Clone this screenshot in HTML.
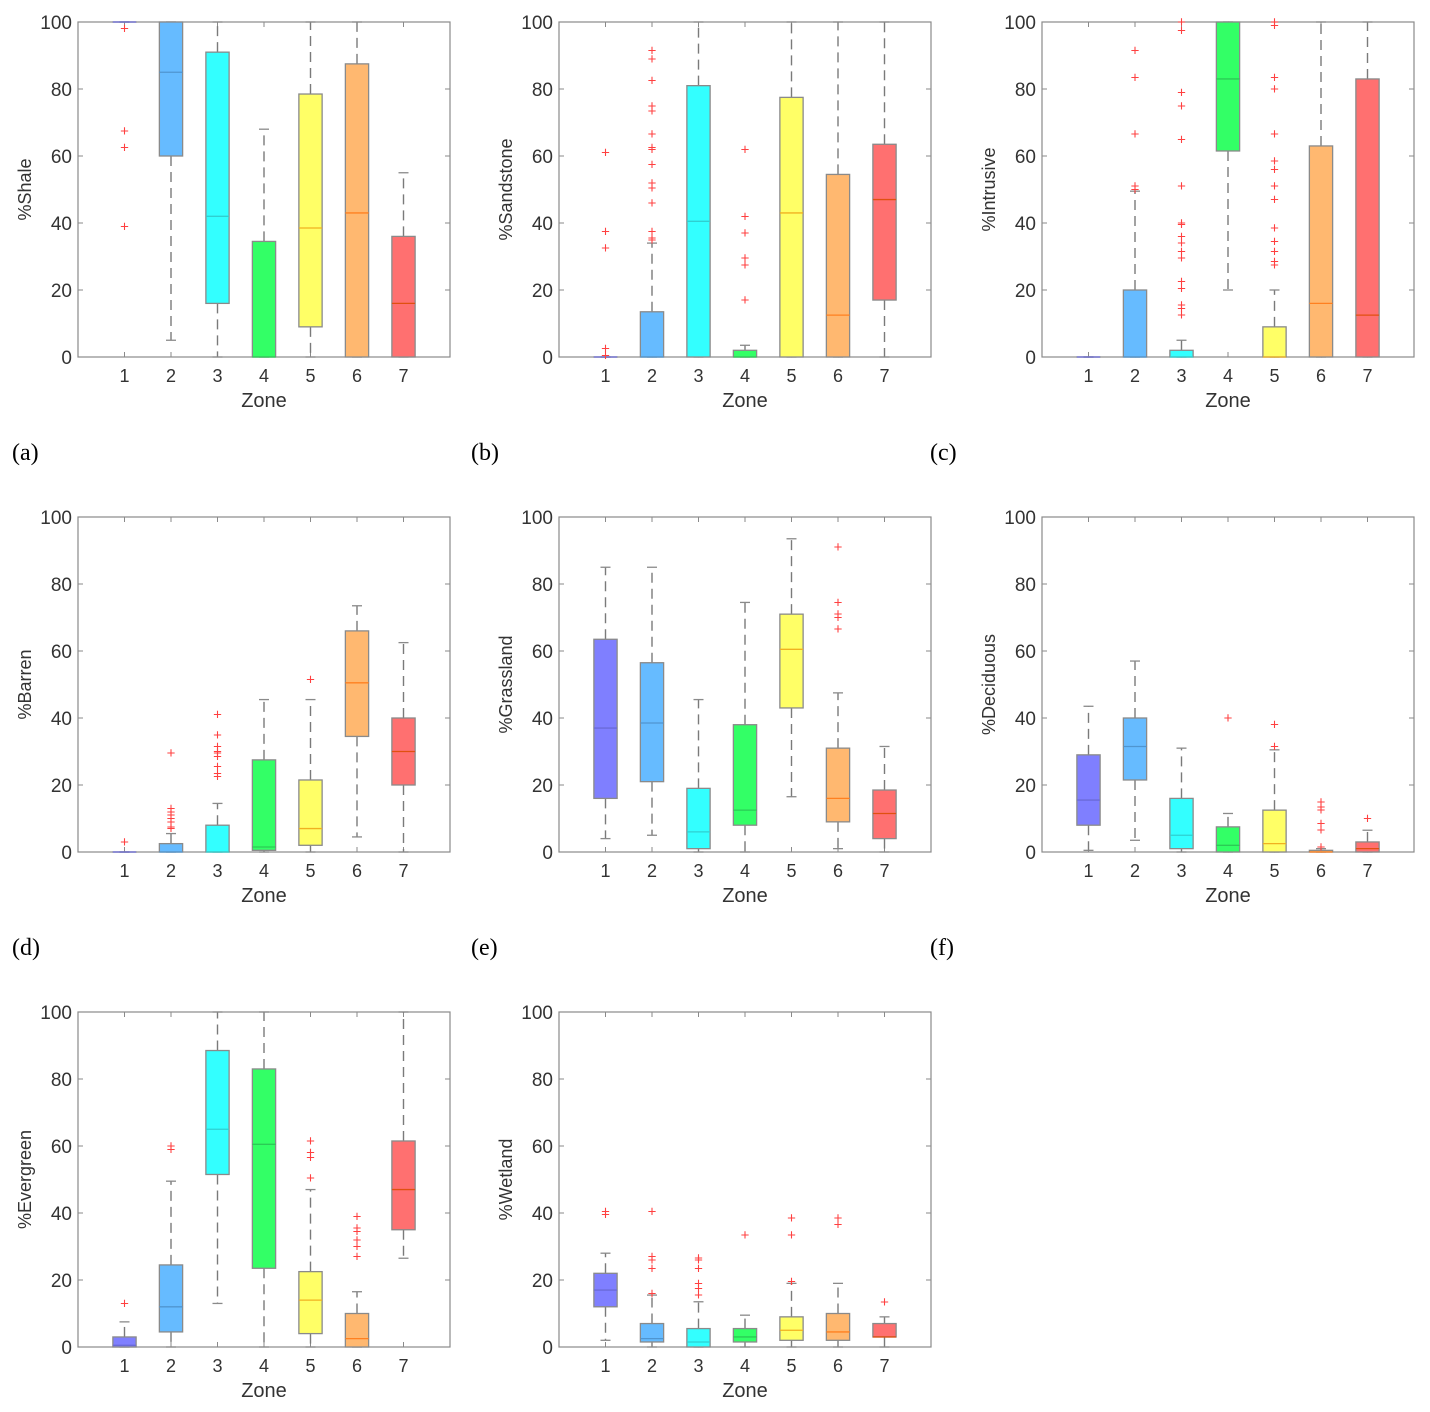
<!DOCTYPE html>
<html><head><meta charset="utf-8">
<style>
html,body{margin:0;padding:0;background:#fff;}
svg{display:block;font-family:"Liberation Sans",Arial,sans-serif;}
</style></head>
<body>
<svg id="fig" width="1430" height="1412" viewBox="0 0 1430 1412" xmlns="http://www.w3.org/2000/svg"></svg>
<script>
// Categories
const zones = [1,2,3,4,5,6,7];
const yTicks = [0,20,40,60,80,100];
const zoneColors = ["#7f7fff","#66bbff","#33ffff","#33ff66","#ffff66","#ffb870","#ff7070"];
const medianColors = ["#6a6ad8","#4f95d0","#2fcfd0","#2bcb55","#f0b020","#ff8020","#e05010"];
const panelTitles = ["%Shale","%Sandstone","%Intrusive","%Barren","%Grassland","%Deciduous","%Evergreen","%Wetland"];
const panelLetters = ["(a)","(b)","(c)","(d)","(e)","(f)","",""];

// Stats per zone: [lowWhisker, q1, median, q3, highWhisker]
const shaleStats = [[100,100,100,100,100],[5,60,85,100,100],[0,16,42,91,100],[0,0,0,34.5,68],[0,9,38.5,78.5,100],[0,0,43,87.5,100],[0,0,16,36,55]];
const shaleOut = [[98,67.5,62.5,39],[],[],[],[],[],[]];
const sandStats = [[0,0,0,0,0],[0,0,0,13.5,34],[0,0,40.5,81,100],[0,0,0,2,3.5],[0,0,43,77.5,100],[0,0,12.5,54.5,100],[0,17,47,63.5,100]];
const sandOut = [[61,37.5,32.5,2.5,0.5],[91.5,89,82.5,75,73.5,66.5,62.5,62,57.5,52,50.5,46,37.5,35.5,35],[],[62,42,37,29.5,27.5,17],[],[],[]];
const intrStats = [[0,0,0,0,0],[0,0,0,20,49.5],[0,0,0,2,5],[20,61.5,83,100,100],[0,0,0,9,20],[0,0,16,63,100],[0,0,12.5,83,100]];
const intrOut = [[],[91.5,83.5,66.5,51,50],[100,97.5,79,75,65,51,40,39.5,36,34,31.5,29.5,22.5,20.5,15.5,14.5,12.5],[],[100,99,83.5,80,66.5,58.5,56,51,47,38.5,34.5,31.5,28.5,27.5],[],[]];
const barrStats = [[0,0,0,0,0],[0,0,0,2.5,5.5],[0,0,0,8,14.5],[0,0.5,1.5,27.5,45.5],[0,2,7,21.5,45.5],[4.5,34.5,50.5,66,73.5],[0,20,30,40,62.5]];
const barrOut = [[3],[29.5,13,12,11,10,9,7.5,7],[41,35,31.5,30,29.5,28.5,25.5,23.5,22.5],[],[51.5],[],[]];
const grasStats = [[4,16,37,63.5,85],[5,21,38.5,56.5,85],[0,1,6,19,45.5],[0,8,12.5,38,74.5],[16.5,43,60.5,71,93.5],[1,9,16,31,47.5],[0,4,11.5,18.5,31.5]];
const grasOut = [[],[],[],[],[],[91,74.5,71,70,66.5],[]];
const deciStats = [[0.5,8,15.5,29,43.5],[3.5,21.5,31.5,40,57],[0,1,5,16,31],[0,0,2,7.5,11.5],[0,0,2.5,12.5,30.5],[0,0,0,0.5,1],[0,0,1,3,6.5]];
const deciOut = [[],[],[],[40],[38,31.5],[15,13.5,12.5,8.5,6.5,1.5],[10]];
const everStats = [[0,0,0.5,3,7.5],[0,4.5,12,24.5,49.5],[13,51.5,65,88.5,100],[0,23.5,60.5,83,100],[0,4,14,22.5,47],[0,0,2.5,10,16.5],[26.5,35,47,61.5,100]];
const everOut = [[13],[60,59],[],[],[61.5,58,56.5,50.5],[39,35.5,34.5,32,30,27],[]];
const wetlStats = [[2,12,17,22,28],[0,1.5,2.5,7,15.5],[0,0,1.5,5.5,13.5],[0,1.5,3,5.5,9.5],[0,2,5,9,19],[0,2,4.5,10,19],[0,3,3,7,9]];
const wetlOut = [[40.5,39.5],[40.5,27,26,23.5,16],[26.5,26,23.5,19,17.5,15.5],[33.5],[38.5,33.5,19.5],[38.5,36.5],[13.5]];

const allStats = [shaleStats,sandStats,intrStats,barrStats,grasStats,deciStats,everStats,wetlStats];
const allOut = [shaleOut,sandOut,intrOut,barrOut,grasOut,deciOut,everOut,wetlOut];

const NS="http://www.w3.org/2000/svg";
const svg=document.getElementById('fig');
function mk(tag,attrs,parent){const e=document.createElementNS(NS,tag);for(const k in attrs)e.setAttribute(k,attrs[k]);(parent||svg).appendChild(e);return e;}

const colLeft=[78,559,1042], rowTop=[22,517,1012], W=372, H=335;
const letterX=[12,471,930];
const GRAY="#8a8a8a";

allStats.forEach((stats,p)=>{
  const L=colLeft[p%3], T=rowTop[Math.floor(p/3)];
  const xs=z=>L+z*W/8;
  const ys=v=>T+H-v*H/100;
  const g=mk('g',{});
  
  
  const fr=mk('rect',{x:L,y:T,width:W,height:H,fill:'none',stroke:GRAY,'stroke-width':1.2},g);
  
  
  yTicks.forEach(t=>{
    const y=ys(t);
    mk('line',{x1:L,x2:L+5,y1:y,y2:y,stroke:GRAY},g);
    mk('line',{x1:L+W,x2:L+W-5,y1:y,y2:y,stroke:GRAY},g);
    const tx=mk('text',{x:L-6,y:y+7,'text-anchor':'end','font-size':19,fill:'#333'},g);
    tx.textContent=t;
    
    
  });
  zones.forEach(z=>{
    const x=xs(z);
    mk('line',{x1:x,x2:x,y1:T,y2:T+5,stroke:GRAY},g);
    mk('line',{x1:x,x2:x,y1:T+H,y2:T+H-5,stroke:GRAY},g);
    const tx=mk('text',{x:x,y:T+H+25,'text-anchor':'middle','font-size':18,fill:'#333'},g);
    tx.textContent=z;
    
    
  });
  const xt=mk('text',{x:L+W/2,y:T+H+50,'text-anchor':'middle','font-size':20,fill:'#333'},g);
  xt.textContent='Zone';
  
  
  const yt=mk('text',{x:0,y:0,'text-anchor':'middle','font-size':18,fill:'#333',transform:`translate(${L-47},${T+H/2}) rotate(-90)`},g);
  yt.textContent=panelTitles[p];
  
  
  if(panelLetters[p]){
    const lt=mk('text',{x:letterX[p%3],y:T+H+103,'font-size':24,fill:'#000','font-family':'"Liberation Serif",serif'},g);
    lt.textContent=panelLetters[p];
    
    
  }
  stats.forEach((s,i)=>{
    const x=xs(zones[i]), bw=W/8*0.5, cw=10;
    const bg=mk('g',{},g);
    
    
    mk('line',{x1:x,x2:x,y1:ys(s[3]),y2:ys(s[4]),stroke:'#7a7a7a','stroke-width':1.4,'stroke-dasharray':'10,6'},bg);
    mk('line',{x1:x,x2:x,y1:ys(s[1]),y2:ys(s[0]),stroke:'#7a7a7a','stroke-width':1.4,'stroke-dasharray':'10,6'},bg);
    mk('line',{x1:x-cw/2,x2:x+cw/2,y1:ys(s[4]),y2:ys(s[4]),stroke:GRAY,'stroke-width':1.3},bg);
    mk('line',{x1:x-cw/2,x2:x+cw/2,y1:ys(s[0]),y2:ys(s[0]),stroke:GRAY,'stroke-width':1.3},bg);
    const h=Math.max(ys(s[1])-ys(s[3]),0.01);
    mk('rect',{x:x-bw/2,y:ys(s[3]),width:bw,height:h,fill:zoneColors[i],stroke:GRAY,'stroke-width':1.3},bg);
    mk('line',{x1:x-bw/2,x2:x+bw/2,y1:ys(s[2]),y2:ys(s[2]),stroke:medianColors[i],'stroke-width':1.3},bg);
    allOut[p][i].forEach(v=>{
      const o=mk('text',{x:x,y:ys(v)+5,'text-anchor':'middle','font-size':15,fill:'#ff4040'},bg);
      o.textContent='+';
      
      
    });
  });
});
</script>
</body></html>
